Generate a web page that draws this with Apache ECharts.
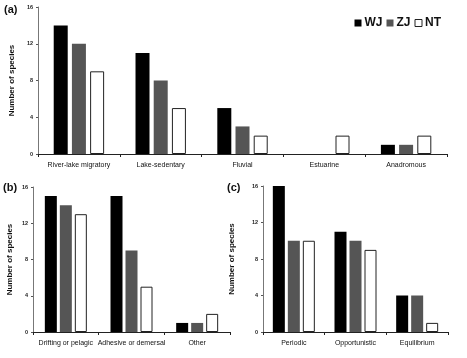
<!DOCTYPE html>
<html><head><meta charset="utf-8">
<script src="https://cdn.jsdelivr.net/npm/echarts@6/dist/echarts.min.js"></script>
<style>html,body{margin:0;padding:0;background:#fff}#c{width:467px;height:358px}</style>
</head><body><div id="c"></div>
<script>
const catA = ['River-lake migratory','Lake-sedentary','Fluvial','Estuarine','Anadromous'];
const wjA = [14, 11, 5, 0, 1];
const zjA = [12, 8, 3, 0, 1];
const ntA = [9, 5, 2, 2, 2];
const catB = ['Drifting or pelagic','Adhesive or demersal','Other'];
const wjB = [15, 15, 1];
const zjB = [14, 9, 1];
const ntB = [13, 5, 2];
const catC = ['Periodic','Opportunistic','Equilibrium'];
const wjC = [16, 11, 4];
const zjC = [10, 10, 4];
const ntC = [10, 9, 1];
const seriesNames = ['WJ','ZJ','NT'];

const font = 'Liberation Sans, Arial, sans-serif';
const styles = {
  WJ: {color:'#000', borderWidth:0},
  ZJ: {color:'#555', borderWidth:0},
  NT: {color:'#fff', borderColor:'#222', borderWidth:1}
};
const grids = [
  {left:33, top:7, width:414, height:147},
  {left:33, top:187, width:197, height:145},
  {left:263, top:186, width:185, height:146}
];
function xAx(cats, gi, fs){
  return {type:'category', gridIndex:gi, data:cats,
    axisLine:{lineStyle:{color:'#222', width:1}},
    axisTick:{show:true, length:3, lineStyle:{color:'#222'}},
    axisLabel:{fontFamily:font, fontSize:fs, color:'#111', margin:8, interval:0}};
}
function yAx(gi, gap){
  return {type:'value', gridIndex:gi, min:0, max:16, interval:4,
    name:'Number of species', nameLocation:'middle', nameGap:gap,
    nameTextStyle:{fontFamily:font, fontSize:8, fontWeight:'bold', color:'#111'},
    axisLine:{show:true, lineStyle:{color:'#777', width:1}},
    axisTick:{show:true, length:2, lineStyle:{color:'#555'}},
    splitLine:{show:false},
    axisLabel:{fontFamily:font, fontSize:5.5, fontWeight:'bold', color:'#222', margin:5}};
}
const sets = [[wjA,zjA,ntA],[wjB,zjB,ntB],[wjC,zjC,ntC]];
const bw = [14, 12, 12];
const gaps = ['30%','25%','25%'];
const series = [];
sets.forEach((s, gi) => {
  s.forEach((vals, k) => {
    const nm = seriesNames[k];
    series.push({type:'bar', name:nm, xAxisIndex:gi, yAxisIndex:gi,
      data:vals.map(v => v === 0 ? null : v),
      barWidth:bw[gi], barGap:gaps[gi], itemStyle:styles[nm], animation:false});
  });
});
const chart = echarts.init(document.getElementById('c'));
chart.setOption({
  animation:false,
  grid:grids,
  xAxis:[xAx(catA,0,7), xAx(catB,1,7), xAx(catC,2,7)],
  yAxis:[yAx(0,21), yAx(1,19), yAx(2,27)],
  legend:{right:21, top:12, itemWidth:7, itemHeight:7, itemGap:4, icon:'rect',
    textStyle:{fontFamily:font, fontSize:12, fontWeight:'bold', color:'#111', padding:[0,0,0,-2]},
    data:seriesNames.map(n=>({name:n, itemStyle:styles[n]}))},
  graphic:[
    {type:'text', left:4, top:4, style:{text:'(a)', font:'bold 11px Liberation Sans, Arial', fill:'#111'}},
    {type:'text', left:3, top:182, style:{text:'(b)', font:'bold 11px Liberation Sans, Arial', fill:'#111'}},
    {type:'text', left:227, top:182, style:{text:'(c)', font:'bold 11px Liberation Sans, Arial', fill:'#111'}}
  ],
  series:series
});
</script></body></html>
